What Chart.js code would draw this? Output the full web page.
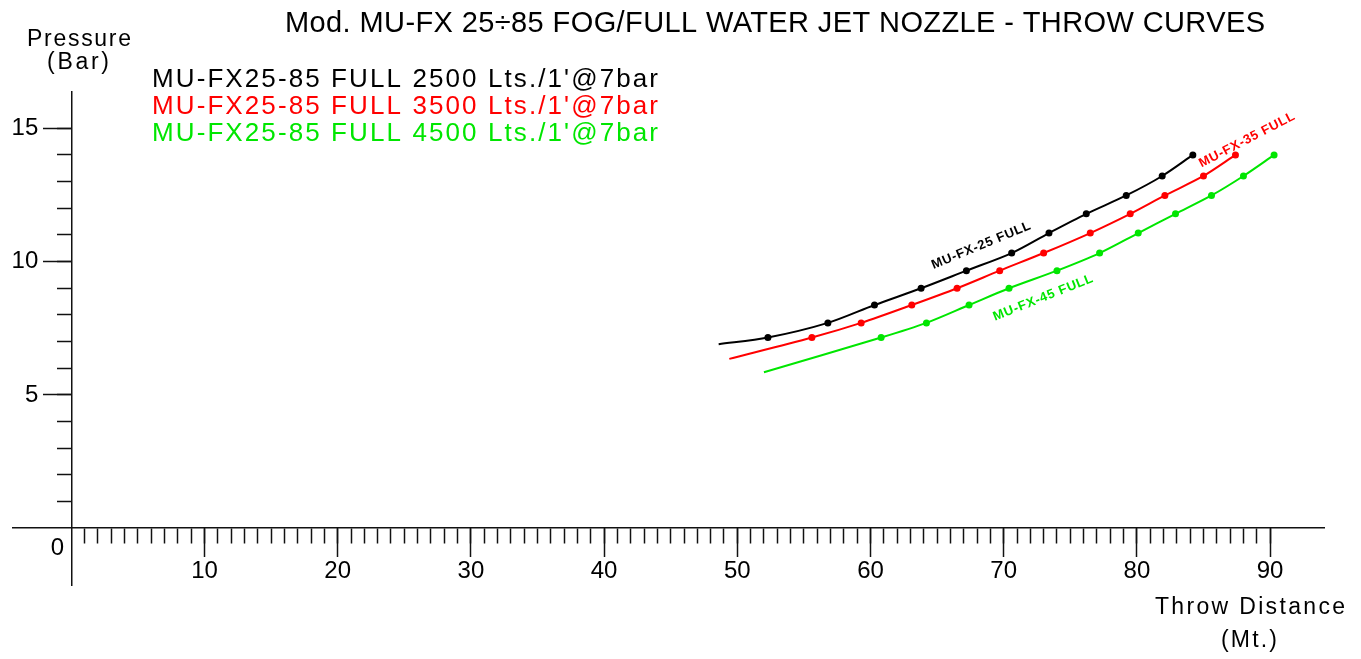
<!DOCTYPE html>
<html>
<head>
<meta charset="utf-8">
<script src="https://cdn.jsdelivr.net/npm/chart.js@4.4.1/dist/chart.umd.min.js"></script>
<style>
  html, body { margin: 0; padding: 0; background: #fff; }
  #wrap { position: relative; width: 1361px; height: 659px; }
</style>
</head>
<body>
<div id="wrap"><canvas id="myChart"></canvas></div>
<script>
// series (throw distance in Mt., pressure in bar)
const seriesNames = [
    "MU-FX25-85 FULL 2500 Lts./1'@7bar",
    "MU-FX25-85 FULL 3500 Lts./1'@7bar",
    "MU-FX25-85 FULL 4500 Lts./1'@7bar"
];
const curveLabels = ['MU-FX-25 FULL', 'MU-FX-35 FULL', 'MU-FX-45 FULL'];
const seriesColors = ['#000000', '#ff0000', '#00e600'];

const distance25 = [48.6, 52.3, 56.8, 60.3, 63.8, 67.2, 70.6, 73.4, 76.2, 79.2, 81.9, 84.2];
const pressure25 = [6.9, 7.15, 7.7, 8.37, 9.0, 9.66, 10.32, 11.07, 11.79, 12.48, 13.21, 14.0];
const distance35 = [49.4, 55.6, 59.3, 63.1, 66.5, 69.7, 73.0, 76.5, 79.5, 82.1, 85.0, 87.4];
const pressure35 = [6.35, 7.15, 7.7, 8.37, 9.0, 9.66, 10.32, 11.07, 11.79, 12.48, 13.21, 14.0];
const distance45 = [52.0, 60.8, 64.2, 67.4, 70.4, 74.0, 77.2, 80.1, 82.9, 85.6, 88.0, 90.3];
const pressure45 = [5.85, 7.15, 7.7, 8.37, 9.0, 9.66, 10.32, 11.07, 11.79, 12.48, 13.21, 14.0];

const xTickLabels = [10, 20, 30, 40, 50, 60, 70, 80, 90];
const yTickLabels = [5, 10, 15];

// where the curve names sit (data coords) and their slant
const curveLabelPos = [[68.3, 10.6], [88.26, 14.56], [72.95, 8.64]];
const curveLabelAngle = [-22.4, -27.3, -21.8];

function toPoints(xs, ys) {
    return xs.map((v, i) => ({ x: v, y: ys[i] }));
}

// draw text stretched to a given width with letter spacing (CAD-like look)
function fitText(ctx, text, x, y, width, size, color, weight) {
    ctx.save();
    ctx.font = (weight || 'normal') + ' ' + size + 'px "Liberation Sans", Arial, sans-serif';
    ctx.fillStyle = color;
    ctx.textBaseline = 'middle';
    ctx.textAlign = 'left';
    const n = Array.from(text).length;
    const w0 = ctx.measureText(text).width;
    if ('letterSpacing' in ctx && n > 1) {
        ctx.letterSpacing = ((width - w0) / (n - 1)) + 'px';
        ctx.fillText(text, x, y);
    } else {
        ctx.translate(x, y);
        ctx.scale(width / w0, 1);
        ctx.fillText(text, 0, 0);
    }
    ctx.restore();
}

const textPlugin = {
    id: 'cadText',
    afterDraw(chart) {
        const ctx = chart.ctx;
        const sx = chart.scales.x, sy = chart.scales.y;

        fitText(ctx, 'Mod. MU-FX 25\u00f785 FOG/FULL WATER JET NOZZLE - THROW CURVES', 285, 24, 980, 29, '#000');
        seriesNames.forEach((name, i) => {
            fitText(ctx, name, 152, 80 + i * 27, 506, 26, seriesColors[i]);
        });
        fitText(ctx, 'Pressure', 27, 40, 104, 23, '#000');
        fitText(ctx, '(Bar)', 47, 63, 62, 23, '#000');
        fitText(ctx, 'Throw Distance', 1155, 608, 190, 23, '#000');
        fitText(ctx, '(Mt.)', 1221, 641, 56, 23, '#000');

        // tick labels
        ctx.save();
        ctx.font = '24px "Liberation Sans", Arial, sans-serif';
        ctx.fillStyle = '#000';
        ctx.textBaseline = 'middle';
        const y0 = sy.getPixelForValue(0);
        const x0 = sx.getPixelForValue(0);
        ctx.textAlign = 'center';
        xTickLabels.forEach(v => ctx.fillText(String(v), sx.getPixelForValue(v), y0 + 43));
        ctx.textAlign = 'right';
        yTickLabels.forEach(v => ctx.fillText(String(v), x0 - 33, sy.getPixelForValue(v)));
        ctx.textAlign = 'center';
        ctx.fillText('0', x0 - 14, y0 + 20);
        ctx.restore();

        // curve names along the lines
        curveLabels.forEach((t, i) => {
            const px = sx.getPixelForValue(curveLabelPos[i][0]);
            const py = sy.getPixelForValue(curveLabelPos[i][1]);
            ctx.save();
            ctx.translate(px, py);
            ctx.rotate(curveLabelAngle[i] * Math.PI / 180);
            fitText(ctx, t, -53, 0, 106, 13, seriesColors[i], 'bold');
            ctx.restore();
        });
    }
};

function makeSet(xs, ys, color) {
    return {
        data: toPoints(xs, ys),
        borderColor: color,
        backgroundColor: color,
        borderWidth: 2,
        showLine: true,
        tension: 0.3,
        pointRadius: c => (c.dataIndex === 0 ? 0 : 3.5),
        pointBackgroundColor: color,
        pointBorderWidth: 0,
        fill: false
    };
}

const X_MIN = -4.4, X_MAX = 94.1, Y_MIN = -2.13, Y_MAX = 16.36;
const axisColor = '#111';

document.addEventListener('DOMContentLoaded', function () {
    const ctx = document.getElementById('myChart');

    new Chart(ctx, {
        type: 'line',
        data: {
            datasets: [
                makeSet(distance25, pressure25, seriesColors[0]),
                makeSet(distance35, pressure35, seriesColors[1]),
                makeSet(distance45, pressure45, seriesColors[2])
            ]
        },
        options: {
            responsive: true,
            maintainAspectRatio: false,
            animation: false,
            layout: { padding: { left: 12.7, right: 36.3, top: 92, bottom: 74 } },
            plugins: { legend: { display: false }, tooltip: { enabled: false } },
            scales: {
                x: {
                    type: 'linear', axis: 'x', min: X_MIN, max: X_MAX, position: { y: 0 },
                    afterBuildTicks: s => { s.ticks = s.ticks.filter(t => t.value >= 1 && t.value <= 90 && Number.isInteger(t.value)); },
                    ticks: { stepSize: 1, display: false, autoSkip: false },
                    grid: { drawOnChartArea: false, drawTicks: true, tickLength: 15, tickColor: axisColor, tickWidth: 1.5 },
                    border: { display: true, color: axisColor, width: 1.5 }
                },
                xMajor: {
                    type: 'linear', axis: 'x', min: X_MIN, max: X_MAX, position: { y: 0 },
                    afterBuildTicks: s => { s.ticks = xTickLabels.map(v => ({ value: v })); },
                    ticks: { display: false, autoSkip: false },
                    grid: { drawOnChartArea: false, drawTicks: true, tickLength: 29, tickColor: axisColor, tickWidth: 1.5 },
                    border: { display: false }
                },
                y: {
                    type: 'linear', axis: 'y', min: Y_MIN, max: Y_MAX, position: { x: 0 },
                    afterBuildTicks: s => { s.ticks = s.ticks.filter(t => t.value >= 1 && t.value <= 15 && Number.isInteger(t.value)); },
                    ticks: { stepSize: 1, display: false, autoSkip: false },
                    grid: { drawOnChartArea: false, drawTicks: true, tickLength: 14, tickColor: axisColor, tickWidth: 1.5 },
                    border: { display: true, color: axisColor, width: 1.5 }
                },
                yMajor: {
                    type: 'linear', axis: 'y', min: Y_MIN, max: Y_MAX, position: { x: 0 },
                    afterBuildTicks: s => { s.ticks = yTickLabels.map(v => ({ value: v })); },
                    ticks: { display: false, autoSkip: false },
                    grid: { drawOnChartArea: false, drawTicks: true, tickLength: 28, tickColor: axisColor, tickWidth: 1.5 },
                    border: { display: false }
                }
            }
        },
        plugins: [textPlugin]
    });
});
</script>
</body>
</html>
